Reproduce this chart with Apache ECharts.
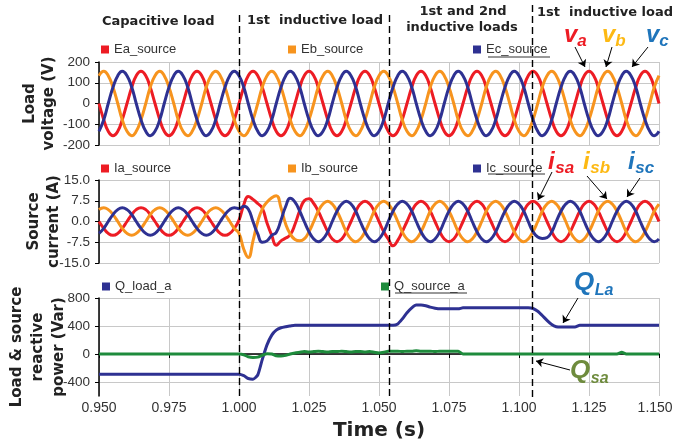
<!DOCTYPE html>
<html>
<head>
<meta charset="utf-8">
<script src="https://cdn.jsdelivr.net/npm/echarts@6/dist/echarts.min.js"></script>
<style>
  html, body { margin: 0; padding: 0; background: #fff; }
  #chart { width: 673px; height: 444px; }
</style>
</head>
<body>
<div id="chart"></div>
<script>
// sample times (s): 30 degree steps of the 50 Hz waveforms
const time = [
  0.95, 0.9517, 0.9533, 0.955, 0.9567, 0.9583,
  0.96, 0.9617, 0.9633, 0.965, 0.9667, 0.9683,
  0.97, 0.9717, 0.9733, 0.975, 0.9767, 0.9783,
  0.98, 0.9817, 0.9833, 0.985, 0.9867, 0.9883,
  0.99, 0.9917, 0.9933, 0.995, 0.9967, 0.9983,
  1.0, 1.0017, 1.0033, 1.005, 1.0067, 1.0083,
  1.01, 1.0117, 1.0133, 1.015, 1.0167, 1.0183,
  1.02, 1.0217, 1.0233, 1.025, 1.0267, 1.0283,
  1.03, 1.0317, 1.0333, 1.035, 1.0367, 1.0383,
  1.04, 1.0417, 1.0433, 1.045, 1.0467, 1.0483,
  1.05, 1.0517, 1.0533, 1.055, 1.0567, 1.0583,
  1.06, 1.0617, 1.0633, 1.065, 1.0667, 1.0683,
  1.07, 1.0717, 1.0733, 1.075, 1.0767, 1.0783,
  1.08, 1.0817, 1.0833, 1.085, 1.0867, 1.0883,
  1.09, 1.0917, 1.0933, 1.095, 1.0967, 1.0983,
  1.10, 1.1017, 1.1033, 1.105, 1.1067, 1.1083,
  1.11, 1.1117, 1.1133, 1.115, 1.1167, 1.1183,
  1.12, 1.1217, 1.1233, 1.125, 1.1267, 1.1283,
  1.13, 1.1317, 1.1333, 1.135, 1.1367, 1.1383,
  1.14, 1.1417, 1.1433, 1.145, 1.1467, 1.1483,
  1.15
];

// load voltages (V)
const Ea = [
  0, -78, -134, -155, -134, -78, 0, 78, 134, 155, 134, 78,
  0, -78, -134, -155, -134, -78, 0, 78, 134, 155, 134, 78,
  0, -78, -134, -155, -134, -78, 0, 78, 134, 155, 134, 78,
  0, -78, -134, -155, -134, -78, 0, 78, 134, 155, 134, 78,
  0, -78, -134, -155, -134, -78, 0, 78, 134, 155, 134, 78,
  0, -78, -134, -155, -134, -78, 0, 78, 134, 155, 134, 78,
  0, -78, -134, -155, -134, -78, 0, 78, 134, 155, 134, 78,
  0, -78, -134, -155, -134, -78, 0, 78, 134, 155, 134, 78,
  0, -78, -134, -155, -134, -78, 0, 78, 134, 155, 134, 78,
  0, -78, -134, -155, -134, -78, 0, 78, 134, 155, 134, 78,
  0
];
const Eb = [
  134, 155, 134, 78, 0, -78, -134, -155, -134, -78, 0, 78,
  134, 155, 134, 78, 0, -78, -134, -155, -134, -78, 0, 78,
  134, 155, 134, 78, 0, -78, -134, -155, -134, -78, 0, 78,
  134, 155, 134, 78, 0, -78, -134, -155, -134, -78, 0, 78,
  134, 155, 134, 78, 0, -78, -134, -155, -134, -78, 0, 78,
  134, 155, 134, 78, 0, -78, -134, -155, -134, -78, 0, 78,
  134, 155, 134, 78, 0, -78, -134, -155, -134, -78, 0, 78,
  134, 155, 134, 78, 0, -78, -134, -155, -134, -78, 0, 78,
  134, 155, 134, 78, 0, -78, -134, -155, -134, -78, 0, 78,
  134, 155, 134, 78, 0, -78, -134, -155, -134, -78, 0, 78,
  134
];
const Ec = [
  -134, -78, 0, 78, 134, 155, 134, 78, 0, -78, -134, -155,
  -134, -78, 0, 78, 134, 155, 134, 78, 0, -78, -134, -155,
  -134, -78, 0, 78, 134, 155, 134, 78, 0, -78, -134, -155,
  -134, -78, 0, 78, 134, 155, 134, 78, 0, -78, -134, -155,
  -134, -78, 0, 78, 134, 155, 134, 78, 0, -78, -134, -155,
  -134, -78, 0, 78, 134, 155, 134, 78, 0, -78, -134, -155,
  -134, -78, 0, 78, 134, 155, 134, 78, 0, -78, -134, -155,
  -134, -78, 0, 78, 134, 155, 134, 78, 0, -78, -134, -155,
  -134, -78, 0, 78, 134, 155, 134, 78, 0, -78, -134, -155,
  -134, -78, 0, 78, 134, 155, 134, 78, 0, -78, -134, -155,
  -134
];

// source currents (A)
const Ia = [
  0, -2.5, -4.3, -5, -4.3, -2.5, 0, 2.5, 4.3, 5, 4.3, 2.5,
  0, -2.5, -4.3, -5, -4.3, -2.5, 0, 2.5, 4.3, 5, 4.3, 2.5,
  0, -2.5, -4.3, -5, -4.3, -2.5,
  0.5, 6, 9, 8, 6.5, 4.8,
  -0.5, -5, -8.6, -7, -6, -4.8,
  -1, 4, 7.5, 8.2, 6.5, 3.7,
  0, -3.7, -6.3, -7.3, -6.3, -3.7, 0, 3.7, 6.3, 7.3, 6.3, 3.7,
  0, -3.7, -6.3, -8.8, -6.8, -3.7, 0, 3.7, 6.3, 7.3, 6.3, 3.7,
  0, -3.7, -6.3, -7.3, -6.3, -3.7, 0, 3.7, 6.3, 7.3, 6.3, 3.7,
  0, -3.7, -6.3, -7.3, -6.3, -3.7, 0, 3.7, 6.3, 7.3, 6.3, 3.7,
  0, -3.7, -6.3, -7.3, -6.3, -3.7, 0, 3.7, 6.3, 7.3, 6.3, 3.7,
  0, -3.7, -6.3, -7.3, -6.3, -3.7, 0, 3.7, 6.3, 7.3, 6.3, 3.7,
  0
];
const Ib = [
  4.3, 5, 4.3, 2.5, 0, -2.5, -4.3, -5, -4.3, -2.5, 0, 2.5,
  4.3, 5, 4.3, 2.5, 0, -2.5, -4.3, -5, -4.3, -2.5, 0, 2.5,
  4.3, 5, 4.3, 2.5, 0, -2.5,
  -4.3, -10, -13, -7, 0, 4.5,
  7, 8.6, 9.3, 5, -1, -4.5,
  -6.5, -7, -6.3, -3.7, 0, 3.7,
  6.3, 7.3, 6.3, 3.7, 0, -3.7, -6.3, -7.3, -6.3, -3.7, 0, 3.7,
  6.3, 7.3, 6.3, 3.7, 0, -3.7, -6.3, -7.3, -6.3, -3.7, 0, 3.7,
  6.3, 7.3, 6.3, 3.7, 0, -3.7, -6.3, -7.3, -6.3, -3.7, 0, 3.7,
  6.3, 7.3, 6.3, 3.7, 0, -3.7, -6.3, -7.3, -6.3, -3.7, 0, 3.7,
  6.3, 7.3, 6.3, 3.7, 0, -3.7, -6.3, -7.3, -6.3, -3.7, 0, 3.7,
  6.3, 7.3, 6.3, 3.7, 0, -3.7, -6.3, -7.3, -6.3, -3.7, 0, 3.7,
  6.3
];
const Ic = [
  -4.3, -2.5, 0, 2.5, 4.3, 5, 4.3, 2.5, 0, -2.5, -4.3, -5,
  -4.3, -2.5, 0, 2.5, 4.3, 5, 4.3, 2.5, 0, -2.5, -4.3, -5,
  -4.3, -2.5, 0, 2.5, 4.3, 5,
  4.6, 5.5, 4.5, 0, -4.5, -7.5,
  -7, -5, -4, 0.5, 5.5, 8.4,
  7, 3.7, 0, -3.7, -6.3, -7.3,
  -6.3, -3.7, 0, 3.7, 6.3, 7.3, 6.3, 3.7, 0, -3.7, -6.3, -7.3,
  -6.3, -3.7, 0, 3.7, 6.3, 7.3, 6.3, 3.7, 0, -3.7, -6.3, -7.3,
  -6.3, -3.7, 0, 3.7, 6.3, 7.3, 6.3, 3.7, 0, -3.7, -6.3, -7.3,
  -6.3, -3.7, 0, 3.7, 6.3, 7.3, 6.3, 3.7, 0, -3.7, -5.6, -6.1,
  -5.8, -3.7, 0, 3.7, 6.3, 7.3, 6.3, 3.7, 0, -3.7, -6.3, -7.3,
  -6.3, -3.7, 0, 3.7, 6.3, 7.3, 6.3, 3.7, 0, -3.7, -6.3, -7.3,
  -6.3
];

// reactive power (Var)
const Qload = [
  -290, -290, -290, -290, -290, -290, -290, -290, -290, -290, -290, -290,
  -290, -290, -290, -290, -290, -290, -290, -290, -290, -290, -290, -290,
  -290, -290, -290, -290, -290, -290,
  -290, -310, -350, -360, -300, -80,
  130, 270, 340, 375, 390, 400,
  410, 410, 410, 410, 410, 410, 410, 410, 410, 410, 410, 410,
  410, 410, 410, 410, 410, 410, 410, 410, 410, 410, 430, 500,
  590, 660, 700, 700, 690, 670, 655, 645, 645, 645, 645, 645,
  660, 660, 660, 660, 660, 660, 660, 660, 660, 660, 660, 660,
  660, 660, 660, 650, 610, 550, 480, 420, 390, 385, 385, 385,
  385, 410, 410, 410, 410, 410, 410, 410, 410, 410, 410, 410,
  410, 410, 410, 410, 410, 410, 410
];
const Qsource = [
  0, 0, 0, 0, 0, 0, 0, 0, 0, 0, 0, 0,
  0, 0, 0, 0, 0, 0, 0, 0, 0, 0, 0, 0,
  0, 0, 0, 0, 0, 0,
  0, -10, -40, -50, -45, -20,
  5, 0, -25, -30, -20, 0,
  15, 25, 35, 30, 35, 40, 35, 30, 35, 35, 40, 35,
  30, 35, 35, 30, 35, 25, 15, 25, 40, 40, 40, 35,
  40, 40, 45, 40, 40, 40, 35, 40, 40, 40, 40, 40,
  0, 0, 0, 0, 0, 0, 0, 0, 0, 0, 0, 0,
  0, 0, 0, 0, 0, 0, 0, 0, 0, 0, 0, 0,
  0, 0, 0, 0, 0, 0, 0, 0, 0, 0, 25, 0,
  0, 0, 0, 0, 0, 0, 0
];

const switchTimes = [1.0, 1.0536, 1.1046];
const voltTicks = [-200, 200, 100];
const currTicks = [-15, 15, 7.5];
const powerTicks = [-400, 0, 400, 800];

const RED = '#ED1C24', ORANGE = '#F7941E', NAVY = '#2E3192', GREEN = '#1E8B3C';
const GRIDC = '#c8c8c8';
const TICKFONT = 'Liberation Sans';

const pairs = arr => arr.map((v, i) => [time[i], v]);

const chart = echarts.init(document.getElementById('chart'));

function xAx(i) {
  const bottom = i === 2;
  return {
    type: 'value', gridIndex: i, min: 0.95, max: 1.15, interval: 0.025,
    axisLine: { show: bottom, lineStyle: { color: '#000', width: 1.5 } },
    axisTick: { show: bottom, length: 4, lineStyle: { color: '#000' } },
    axisLabel: {
      show: bottom, fontSize: 14, color: '#333', margin: 5, fontFamily: TICKFONT,
      // last label sits a little left so it stays inside the picture
      formatter: v => Math.abs(v - 1.15) < 1e-9 ? v.toFixed(3) + '\u00a0\u00a0' : v.toFixed(3)
    },
    splitLine: { show: true, lineStyle: { color: GRIDC, width: 1 } },
    name: bottom ? 'Time (s)' : '',
    nameLocation: 'middle', nameGap: 25, nameMoveOverlap: false,
    nameTextStyle: { fontFamily: 'DejaVu Sans', fontWeight: 'bold', fontSize: 20, color: '#222' }
  };
}

function yAx(i, name, gap, lh, extra) {
  return Object.assign({
    type: 'value', gridIndex: i,
    axisLine: { show: true, lineStyle: { color: '#000', width: 1.5 } },
    axisTick: { show: true, length: 4, lineStyle: { color: '#000' } },
    axisLabel: { fontSize: 13.5, color: '#333', margin: 9, fontFamily: TICKFONT },
    splitLine: { show: true, lineStyle: { color: GRIDC, width: 1 } },
    name: name, nameLocation: 'middle', nameGap: gap, nameRotate: 90,
    nameMoveOverlap: false,
    nameTextStyle: {
      fontFamily: 'DejaVu Sans', fontWeight: 'bold', fontSize: 15,
      color: '#222', lineHeight: lh
    }
  }, extra);
}

function wave(name, data, color, xi) {
  return {
    name: name, type: 'line', xAxisIndex: xi, yAxisIndex: xi,
    data: pairs(data), showSymbol: false, smooth: xi < 2 ? 0.5 : 0.2,
    lineStyle: { color: color, width: 3 }, itemStyle: { color: color },
    z: 3
  };
}

function leg(name, left, top) {
  return {
    data: [name], left: left, top: top, padding: 0, icon: 'rect',
    itemWidth: 8, itemHeight: 8, itemGap: 0, selectedMode: false,
    textStyle: { fontSize: 13, color: '#333', fontFamily: TICKFONT }
  };
}

const arrows = [
  [575, 47, 585, 67], [612, 47, 606, 67], [648, 47, 632, 67],
  [552, 172, 538, 200], [587, 176, 607, 199], [640, 178, 627, 197],
  [578, 298, 563, 323], [570, 370, 536, 361]
];

const gridBase = { containLabel: false, outerBoundsMode: 'none' };

const option = {
  animation: false,
  backgroundColor: '#fff',
  grid: [
    Object.assign({ left: 99, top: 62, width: 560, height: 83 }, gridBase),
    Object.assign({ left: 99, top: 180, width: 560, height: 83 }, gridBase),
    Object.assign({ left: 99, top: 298, width: 560, height: 98 }, gridBase)
  ],
  xAxis: [xAx(0), xAx(1), xAx(2)],
  yAxis: [
    yAx(0, 'Load\nvoltage (V)', 40.5, 19,
      { min: voltTicks[0], max: voltTicks[1], interval: voltTicks[2] }),
    (function () {
      const y = yAx(1, 'Source\ncurrent (A)', 34.5, 20,
        { min: currTicks[0], max: currTicks[1], interval: currTicks[2] });
      y.axisLabel.formatter = v => v.toFixed(1);
      return y;
    })(),
    (function () {
      const y = yAx(2, 'Load & source\nreactive\npower (Var)', 29.5, 21, { min: -600, max: 800 });
      y.axisLabel.customValues = powerTicks;
      y.axisTick.customValues = powerTicks;
      return y;
    })()
  ],
  legend: [
    leg('Ea_source', 101, 43), leg('Eb_source', 288, 43), leg('Ec_source', 473, 43),
    leg('Ia_source', 101, 162), leg('Ib_source', 288, 162), leg('Ic_source', 473, 162),
    leg('Q_load_a', 102, 280), leg('Q_source_a', 381, 280)
  ],
  series: [
    wave('Ea_source', Ea, RED, 0),
    wave('Eb_source', Eb, ORANGE, 0),
    wave('Ec_source', Ec, NAVY, 0),
    wave('Ia_source', Ia, RED, 1),
    wave('Ib_source', Ib, ORANGE, 1),
    wave('Ic_source', Ic, NAVY, 1),
    wave('Q_load_a', Qload, NAVY, 2),
    wave('Q_source_a', Qsource, GREEN, 2),
    {
      // holder for the annotation arrows
      type: 'line', xAxisIndex: 0, yAxisIndex: 0, data: [], clip: false, z: 5,
      markLine: {
        silent: true, symbol: ['none', 'arrow'], symbolSize: 7, animation: false,
        label: { show: false },
        lineStyle: { color: '#000', width: 1, type: 'solid' },
        data: arrows.map(a => [{ x: a[0], y: a[1] }, { x: a[2], y: a[3] }])
      }
    }
  ]
};

chart.setOption(option);

// section headers, annotations and switching instants
const HEAD = 'bold 13px "DejaVu Sans"';
function head(text, x, y, align) {
  return { type: 'text', x: x, y: y, z: 10,
    style: { text: text, font: HEAD, fill: '#222', textAlign: align || 'left', textVerticalAlign: 'middle' } };
}
function sym(x, y, main, sub, color, size, subSize) {
  return [
    { type: 'text', x: x, y: y, z: 10,
      style: { text: main, font: 'italic bold ' + size + 'px "Liberation Sans"', fill: color,
        textAlign: 'left', textVerticalAlign: 'bottom' } },
    { type: 'text', x: x + size * (main === 'i' ? 0.3 : main === 'Q' ? 0.8 : 0.55), y: y + 3, z: 10,
      style: { text: sub, font: 'italic bold ' + subSize + 'px "Liberation Sans"', fill: color,
        textAlign: 'left', textVerticalAlign: 'bottom' } }
  ];
}

const graphics = [
  head('Capacitive load', 102, 22),
  head('1st  inductive load', 247, 21),
  head('1st and 2nd', 463, 12, 'center'),
  head('inductive loads', 462, 28, 'center'),
  head('1st  inductive load', 537, 13)
].concat(
  sym(564, 47, 'v', 'a', RED, 24, 17),
  sym(602, 47, 'v', 'b', '#FDB913', 24, 17),
  sym(646, 47, 'v', 'c', '#1F75BB', 24, 17),
  sym(548, 174, 'i', 'sa', RED, 24, 17),
  sym(583, 174, 'i', 'sb', '#FDB913', 24, 17),
  sym(628, 174, 'i', 'sc', '#1F75BB', 24, 17),
  sym(574, 296, 'Q', 'La', '#1F75BB', 26, 16),
  sym(570, 384, 'Q', 'sa', '#6E8B3D', 26, 16)
);

// underlines seen under some legend labels
[[488, 550, 57], [488, 545, 174], [395, 467, 293]].forEach(u => {
  graphics.push({ type: 'line', z: 10, shape: { x1: u[0], y1: u[2], x2: u[1], y2: u[2] },
    style: { stroke: '#333', lineWidth: 1 } });
});

const tops = [15, 15, 5];
switchTimes.forEach((t, i) => {
  const x = Math.round(chart.convertToPixel({ xAxisIndex: 2 }, t)) + 0.5;
  graphics.push({ type: 'line', z: 20, shape: { x1: x, y1: tops[i], x2: x, y2: 398 },
    style: { stroke: '#000', lineWidth: 1.4, lineDash: [7, 4] } });
});

chart.setOption({ graphic: graphics });
</script>
</body>
</html>
